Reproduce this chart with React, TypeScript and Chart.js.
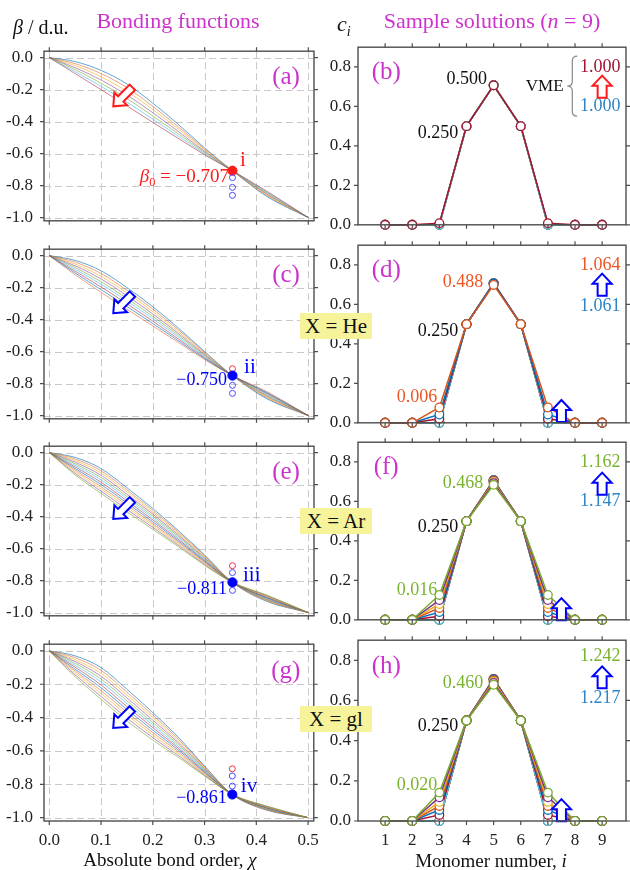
import React, { useEffect, useRef } from "react";
import { Chart, registerables } from "chart.js";

Chart.register(...registerables);

const SERIF = '"Liberation Serif", "Times New Roman", serif';
const MAGENTA = "#CC33CC";
const PALETTE = ["#0072BD", "#D95319", "#EDB120", "#7E2F8E", "#77AC30", "#4DBEEE", "#A2142F"];
const PALETTE_LIGHT = [
  "rgba(0,114,189,0.7)",
  "rgba(217,83,25,0.6)",
  "rgba(237,177,32,0.7)",
  "rgba(126,47,142,0.6)",
  "rgba(119,172,48,0.7)",
  "rgba(77,190,238,0.75)",
  "rgba(162,20,47,0.6)",
];
const RED = "#FF1A1A";
const BLUE = "#0000FF";
const TXT_BLUE = "#2E86C8";
const TXT_ORANGE = "#EE5522";
const TXT_GREEN = "#7AB32E";
const TXT_DARKRED = "#A2142F";

// ---------- Bonding functions (left column) ----------
const CHI = [0, 0.05, 0.1, 0.15, 0.2, 0.25, 0.3, 0.3536, 0.42, 0.5];
const CHI_TICKS = [0, 0.1, 0.2, 0.3, 0.4, 0.5];
const BETA_TICKS = [0, -0.2, -0.4, -0.6, -0.8, -1.0];
const CHI0 = 0.3536;
const BETA0 = [-0.707, -0.75, -0.811, -0.861];

const BOND_A = [
  [0, -0.025, -0.08, -0.165, -0.285, -0.42, -0.565, -0.707, -0.868, -1],
  [0, -0.038, -0.1, -0.188, -0.305, -0.435, -0.572, -0.707, -0.862, -1],
  [0, -0.05, -0.12, -0.211, -0.325, -0.449, -0.579, -0.707, -0.857, -1],
  [0, -0.063, -0.14, -0.234, -0.345, -0.464, -0.587, -0.707, -0.852, -1],
  [0, -0.075, -0.16, -0.256, -0.365, -0.478, -0.594, -0.707, -0.846, -1],
  [0, -0.088, -0.18, -0.279, -0.385, -0.493, -0.601, -0.707, -0.841, -1],
  [0, -0.1, -0.2, -0.302, -0.405, -0.507, -0.608, -0.707, -0.835, -1],
];

const BOND_C = [
  [0, -0.03, -0.095, -0.2, -0.32, -0.455, -0.6, -0.75, -0.895, -1],
  [0, -0.041, -0.112, -0.217, -0.335, -0.466, -0.606, -0.75, -0.889, -1],
  [0, -0.053, -0.129, -0.234, -0.35, -0.478, -0.613, -0.75, -0.884, -1],
  [0, -0.064, -0.146, -0.251, -0.365, -0.489, -0.619, -0.75, -0.878, -1],
  [0, -0.075, -0.163, -0.268, -0.38, -0.5, -0.625, -0.75, -0.873, -1],
  [0, -0.086, -0.179, -0.284, -0.395, -0.511, -0.631, -0.75, -0.867, -1],
  [0, -0.098, -0.196, -0.301, -0.41, -0.523, -0.638, -0.75, -0.861, -1],
  [0, -0.109, -0.213, -0.318, -0.425, -0.534, -0.644, -0.75, -0.856, -1],
  [0, -0.12, -0.23, -0.335, -0.44, -0.545, -0.65, -0.75, -0.85, -1],
];

const BOND_E = [
  [0, -0.03, -0.1, -0.22, -0.35, -0.49, -0.64, -0.811, -0.93, -1],
  [0, -0.04, -0.114, -0.234, -0.362, -0.499, -0.646, -0.811, -0.926, -1],
  [0, -0.05, -0.128, -0.247, -0.374, -0.508, -0.652, -0.811, -0.923, -1],
  [0, -0.06, -0.142, -0.261, -0.385, -0.517, -0.658, -0.811, -0.919, -1],
  [0, -0.07, -0.156, -0.275, -0.397, -0.526, -0.664, -0.811, -0.915, -1],
  [0, -0.08, -0.17, -0.288, -0.409, -0.535, -0.67, -0.811, -0.912, -1],
  [0, -0.09, -0.185, -0.302, -0.421, -0.545, -0.675, -0.811, -0.908, -1],
  [0, -0.1, -0.199, -0.315, -0.433, -0.554, -0.681, -0.811, -0.905, -1],
  [0, -0.11, -0.213, -0.329, -0.445, -0.563, -0.687, -0.811, -0.901, -1],
  [0, -0.12, -0.227, -0.343, -0.456, -0.572, -0.693, -0.811, -0.897, -1],
  [0, -0.13, -0.241, -0.356, -0.468, -0.581, -0.699, -0.811, -0.894, -1],
  [0, -0.14, -0.255, -0.37, -0.48, -0.59, -0.705, -0.811, -0.89, -1],
];

const BOND_G = [
  [0, -0.03, -0.1, -0.23, -0.37, -0.52, -0.69, -0.861, -0.955, -1],
  [0, -0.041, -0.117, -0.247, -0.385, -0.531, -0.695, -0.861, -0.953, -1],
  [0, -0.053, -0.135, -0.265, -0.4, -0.542, -0.701, -0.861, -0.95, -1],
  [0, -0.064, -0.152, -0.282, -0.415, -0.553, -0.706, -0.861, -0.948, -1],
  [0, -0.075, -0.169, -0.299, -0.43, -0.564, -0.712, -0.861, -0.946, -1],
  [0, -0.087, -0.186, -0.316, -0.445, -0.575, -0.717, -0.861, -0.944, -1],
  [0, -0.098, -0.204, -0.334, -0.46, -0.585, -0.723, -0.861, -0.941, -1],
  [0, -0.11, -0.221, -0.351, -0.475, -0.596, -0.728, -0.861, -0.939, -1],
  [0, -0.121, -0.238, -0.368, -0.49, -0.607, -0.734, -0.861, -0.937, -1],
  [0, -0.132, -0.255, -0.385, -0.505, -0.618, -0.739, -0.861, -0.935, -1],
  [0, -0.144, -0.273, -0.403, -0.52, -0.629, -0.745, -0.861, -0.932, -1],
  [0, -0.155, -0.29, -0.42, -0.535, -0.64, -0.75, -0.861, -0.93, -1],
];

// ---------- Sample solutions (right column) ----------
const MONOMER = [1, 2, 3, 4, 5, 6, 7, 8, 9];
const C_TICKS = [0, 0.2, 0.4, 0.6, 0.8];
const SHOULDER = 0.5; // c4 = c6
const EDGE_B = [0, 0, 0, 0, 0, 0, 0.008]; // c3 = c7
const PEAK_B = [0.7071, 0.7071, 0.7071, 0.7071, 0.7071, 0.7071, 0.707]; // c5
const EDGE_D = [0, 0, 0, 0, 0, 0, 0.02, 0.042, 0.0775];
const PEAK_D = [0.7071, 0.7071, 0.7071, 0.7071, 0.7071, 0.7071, 0.7066, 0.7046, 0.6986];
const EDGE_F = [0, 0, 0, 0, 0, 0, 0.018, 0.039, 0.06, 0.08, 0.1, 0.126];
const PEAK_F = [0.7071, 0.7071, 0.7071, 0.7071, 0.7071, 0.7071, 0.7067, 0.705, 0.702, 0.698, 0.6928, 0.6841];
const EDGE_H = [0, 0, 0, 0, 0, 0, 0.03, 0.055, 0.075, 0.095, 0.118, 0.1414];
const PEAK_H = [0.7071, 0.7071, 0.7071, 0.7071, 0.7071, 0.7071, 0.7058, 0.7028, 0.6991, 0.6942, 0.6871, 0.6782];

function solutionSeries(edge: number[], peak: number[]) {
  return edge.map((e, i) => [0, 0, e, SHOULDER, peak[i], SHOULDER, e, 0, 0]);
}

// ---------- layout ----------
const TOPS = [44, 242, 439, 637];
const PANEL_H = 184;

function fnt(size: number, italic = false) {
  return `${italic ? "italic " : ""}${size}px ${SERIF}`;
}

function drawRich(ctx: any, parts: any[], x: number, y: number, align: string, color: string, size: number) {
  ctx.save();
  ctx.fillStyle = color;
  ctx.textBaseline = "middle";
  ctx.textAlign = "left";
  const m = parts.map((p) => {
    const sz = p.sub ? size * 0.65 : size;
    ctx.font = fnt(sz, p.italic);
    return { ...p, sz, w: ctx.measureText(p.s).width };
  });
  const total = m.reduce((a, p) => a + p.w, 0);
  let cx = align === "right" ? x - total : align === "center" ? x - total / 2 : x;
  for (const p of m) {
    ctx.font = fnt(p.sz, p.italic);
    ctx.fillText(p.s, cx, y + (p.sub ? size * 0.3 : 0));
    cx += p.w;
  }
  ctx.restore();
}

function drawArrow(ctx: any, cx: number, cy: number, angle: number, len: number, shaft: number, head: number, headLen: number, color: string) {
  ctx.save();
  ctx.translate(cx, cy);
  ctx.rotate(angle);
  const h = len / 2;
  ctx.beginPath();
  ctx.moveTo(-h, -shaft);
  ctx.lineTo(h - headLen, -shaft);
  ctx.lineTo(h - headLen, -head);
  ctx.lineTo(h, 0);
  ctx.lineTo(h - headLen, head);
  ctx.lineTo(h - headLen, shaft);
  ctx.lineTo(-h, shaft);
  ctx.closePath();
  ctx.fillStyle = "#fff";
  ctx.fill();
  ctx.strokeStyle = color;
  ctx.lineWidth = 2;
  ctx.lineJoin = "miter";
  ctx.stroke();
  ctx.restore();
}

function drawBrace(ctx: any, x: number, y1: number, y2: number) {
  const ym = (y1 + y2) / 2;
  ctx.save();
  ctx.strokeStyle = "#888";
  ctx.lineWidth = 1.2;
  ctx.beginPath();
  ctx.moveTo(x + 5, y1);
  ctx.quadraticCurveTo(x, y1, x, y1 + 5);
  ctx.lineTo(x, ym - 5);
  ctx.quadraticCurveTo(x, ym, x - 5, ym);
  ctx.quadraticCurveTo(x, ym, x, ym + 5);
  ctx.lineTo(x, y2 - 5);
  ctx.quadraticCurveTo(x, y2, x + 5, y2);
  ctx.stroke();
  ctx.restore();
}

function makeDeco(spec: any) {
  const isL = spec.side === "L";
  const xTicks = isL ? CHI_TICKS : MONOMER;
  const yTicks = isL ? BETA_TICKS : C_TICKS;
  return {
    id: "deco_" + spec.id,
    beforeDatasetsDraw(chart: any) {
      if (!isL) return;
      const { ctx, chartArea: a, scales } = chart;
      ctx.save();
      ctx.strokeStyle = "#c8c8c8";
      ctx.lineWidth = 1;
      ctx.setLineDash([7, 4]);
      xTicks.forEach((v) => {
        const px = Math.round(scales.x.getPixelForValue(v)) + 0.5;
        ctx.beginPath();
        ctx.moveTo(px, a.top);
        ctx.lineTo(px, a.bottom);
        ctx.stroke();
      });
      yTicks.forEach((v) => {
        const py = Math.round(scales.y.getPixelForValue(v)) + 0.5;
        ctx.beginPath();
        ctx.moveTo(a.left, py);
        ctx.lineTo(a.right, py);
        ctx.stroke();
      });
      ctx.restore();
    },
    afterDatasetsDraw(chart: any) {
      const { ctx, scales } = chart;
      const X = (v: number) => scales.x.getPixelForValue(v);
      const Y = (v: number) => scales.y.getPixelForValue(v);
      for (const a of spec.ann) {
        if (a.t === "text") {
          drawRich(ctx, [{ s: a.s, italic: a.italic }], X(a.x), Y(a.y), a.align, a.color, a.size);
        } else if (a.t === "rich") {
          drawRich(ctx, a.parts, X(a.x), Y(a.y), a.align, a.color, a.size);
        } else if (a.t === "arrowDL") {
          drawArrow(ctx, X(a.x), Y(a.y), (135 * Math.PI) / 180, 27, 3.8, 9, 10.5, a.color);
        } else if (a.t === "arrowUp") {
          drawArrow(ctx, X(a.x), Y(a.y), -Math.PI / 2, 22, 4.5, 9.5, 10, a.color);
        } else if (a.t === "brace") {
          drawBrace(ctx, X(a.x), Y(a.y1), Y(a.y2));
        }
      }
    },
    afterDraw(chart: any) {
      const { ctx, chartArea: a, scales } = chart;
      ctx.save();
      ctx.strokeStyle = "#4d4d4d";
      ctx.lineWidth = 1.4;
      ctx.setLineDash([]);
      ctx.strokeRect(a.left, a.top, a.right - a.left, a.bottom - a.top);
      ctx.lineWidth = 1.2;
      const tl = 4;
      ctx.beginPath();
      xTicks.forEach((v) => {
        const px = scales.x.getPixelForValue(v);
        ctx.moveTo(px, a.bottom);
        ctx.lineTo(px, a.bottom + tl);
        ctx.moveTo(px, a.top);
        ctx.lineTo(px, a.top - tl);
      });
      yTicks.forEach((v) => {
        const py = scales.y.getPixelForValue(v);
        ctx.moveTo(a.left, py);
        ctx.lineTo(a.left - tl, py);
        ctx.moveTo(a.right, py);
        ctx.lineTo(a.right + tl, py);
      });
      ctx.stroke();
      ctx.restore();
    },
  };
}

function buildConfig(spec: any) {
  const isL = spec.side === "L";
  const datasets: any[] = [];
  if (isL) {
    const n = spec.curves.length;
    spec.curves.forEach((ys: number[], i: number) => {
      datasets.push({
        data: CHI.map((x, j) => ({ x, y: ys[j] })),
        borderColor: PALETTE_LIGHT[i % 7],
        borderWidth: 0.9,
        pointRadius: 0,
        cubicInterpolationMode: "monotone",
        fill: false,
        order: n - i + 1,
      });
    });
    datasets.push({
      data: BETA0.map((b) => ({ x: CHI0, y: b })),
      showLine: false,
      pointRadius: BETA0.map((_, j) => (j === spec.k ? 4.6 : 3)),
      pointBackgroundColor: BETA0.map((_, j) => (j === spec.k ? (j === 0 ? RED : BLUE) : "rgba(255,255,255,0)")),
      pointBorderColor: BETA0.map((_, j) => (j === spec.k ? (j === 0 ? RED : BLUE) : j === 0 ? "#E8304A" : "#4A4AFF")),
      pointBorderWidth: 1,
      order: 0,
    });
  } else {
    const series = solutionSeries(spec.edge, spec.peak);
    const n = series.length;
    series.forEach((vals: number[], i: number) => {
      const c = PALETTE[i % 7];
      datasets.push({
        data: MONOMER.map((m, j) => ({ x: m, y: vals[j] })),
        borderColor: c,
        backgroundColor: "#fff",
        pointBackgroundColor: "#fff",
        pointBorderColor: c,
        pointRadius: 4.3,
        pointBorderWidth: 1.3,
        borderWidth: 1.5,
        tension: 0,
        clip: false,
        order: n - i,
      });
    });
  }

  const tickFont = { family: SERIF, size: 17 };
  const bottomAxisH = spec.isBottom ? 30 : 0;
  return {
    type: "line",
    data: { datasets },
    options: {
      responsive: false,
      animation: false,
      devicePixelRatio: 1,
      events: [],
      layout: {
        autoPadding: false,
        padding: { top: 14, bottom: spec.isBottom ? 12 : 14, left: 0, right: isL ? 14 : 4 },
      },
      plugins: { legend: { display: false }, tooltip: { enabled: false } },
      scales: {
        x: {
          type: "linear",
          min: isL ? -0.0102 : 0,
          max: isL ? 0.511 : 9.88,
          grid: { display: false, drawTicks: false, tickLength: 0 },
          border: { display: false },
          ticks: {
            display: !!spec.isBottom,
            font: tickFont,
            color: "#222",
            padding: 9,
            autoSkip: false,
            maxRotation: 0,
            callback: (v: any) => (isL ? Number(v).toFixed(1) : String(v)),
          },
          afterBuildTicks: (s: any) => {
            s.ticks = (isL ? CHI_TICKS : MONOMER).map((v) => ({ value: v }));
          },
          afterFit: (s: any) => {
            s.height = bottomAxisH;
          },
        },
        y: {
          type: "linear",
          min: isL ? -1.02 : 0,
          max: isL ? 0.04 : 0.9,
          grid: { display: false, drawTicks: false, tickLength: 0 },
          border: { display: false },
          ticks: {
            font: tickFont,
            color: "#222",
            padding: isL ? 11 : 7,
            autoSkip: false,
            callback: (v: any) => (Math.abs(Number(v)).toFixed(1) === "0.0" ? "0.0" : Number(v).toFixed(1)),
          },
          afterBuildTicks: (s: any) => {
            s.ticks = (isL ? BETA_TICKS : C_TICKS).map((v) => ({ value: v }));
          },
          afterFit: (s: any) => {
            s.width = isL ? 44 : 52;
          },
        },
      },
    },
    plugins: [makeDeco(spec)],
  };
}

function leftAnn(letter: string, arrowColor: string, arrowY: number, extra: any[]) {
  return [
    { t: "text", x: 0.457, y: -0.125, s: letter, color: MAGENTA, size: 25, align: "center" },
    { t: "arrowDL", x: 0.142, y: arrowY, color: arrowColor },
    ...extra,
  ];
}

function rightAnn(letter: string, extra: any[]) {
  return [{ t: "text", x: 1.04, y: 0.77, s: letter, color: MAGENTA, size: 25, align: "center" }, ...extra];
}

const PANELS: any[] = [
  {
    id: "a", side: "L", row: 0, curves: BOND_A, k: 0,
    ann: leftAnn("(a)", RED, -0.245, [
      { t: "rich", x: 0.347, y: -0.748, align: "right", color: RED, size: 19, parts: [{ s: "β", italic: true }, { s: "0", sub: true }, { s: " = −0.707" }] },
      { t: "text", x: 0.368, y: -0.645, s: "i", color: RED, size: 21, align: "left" },
    ]),
  },
  {
    id: "c", side: "L", row: 1, curves: BOND_C, k: 1,
    ann: leftAnn("(c)", BLUE, -0.3, [
      { t: "text", x: 0.343, y: -0.78, s: "−0.750", color: BLUE, size: 18, align: "right" },
      { t: "text", x: 0.376, y: -0.7, s: "ii", color: BLUE, size: 21, align: "left" },
    ]),
  },
  {
    id: "e", side: "L", row: 2, curves: BOND_E, k: 2,
    ann: leftAnn("(e)", BLUE, -0.355, [
      { t: "text", x: 0.343, y: -0.856, s: "−0.811", color: BLUE, size: 18, align: "right" },
      { t: "text", x: 0.374, y: -0.77, s: "iii", color: BLUE, size: 21, align: "left" },
    ]),
  },
  {
    id: "g", side: "L", row: 3, curves: BOND_G, k: 3, isBottom: true,
    ann: leftAnn("(g)", BLUE, -0.405, [
      { t: "text", x: 0.343, y: -0.885, s: "−0.861", color: BLUE, size: 18, align: "right" },
      { t: "text", x: 0.37, y: -0.816, s: "iv", color: BLUE, size: 21, align: "left" },
    ]),
  },
  {
    id: "b", side: "R", row: 0, edge: EDGE_B, peak: PEAK_B,
    ann: rightAnn("(b)", [
      { t: "text", x: 4.76, y: 0.735, s: "0.500", color: "#111", size: 18, align: "right" },
      { t: "text", x: 3.7, y: 0.465, s: "0.250", color: "#111", size: 18, align: "right" },
      { t: "text", x: 7.58, y: 0.7, s: "VME", color: "#111", size: 17, align: "right" },
      { t: "brace", x: 7.9, y1: 0.855, y2: 0.55 },
      { t: "text", x: 8.93, y: 0.8, s: "1.000", color: TXT_DARKRED, size: 18, align: "center" },
      { t: "text", x: 8.93, y: 0.6, s: "1.000", color: TXT_BLUE, size: 18, align: "center" },
      { t: "arrowUp", x: 9.0, y: 0.7, color: RED },
    ]),
  },
  {
    id: "d", side: "R", row: 1, edge: EDGE_D, peak: PEAK_D,
    ann: rightAnn("(d)", [
      { t: "text", x: 4.62, y: 0.71, s: "0.488", color: TXT_ORANGE, size: 18, align: "right" },
      { t: "text", x: 3.7, y: 0.465, s: "0.250", color: "#111", size: 18, align: "right" },
      { t: "text", x: 2.92, y: 0.127, s: "0.006", color: TXT_ORANGE, size: 18, align: "right" },
      { t: "text", x: 8.93, y: 0.8, s: "1.064", color: TXT_ORANGE, size: 18, align: "center" },
      { t: "text", x: 8.93, y: 0.59, s: "1.061", color: TXT_BLUE, size: 18, align: "center" },
      { t: "arrowUp", x: 9.0, y: 0.7, color: BLUE },
      { t: "arrowUp", x: 7.5, y: 0.06, color: BLUE },
    ]),
  },
  {
    id: "f", side: "R", row: 2, edge: EDGE_F, peak: PEAK_F,
    ann: rightAnn("(f)", [
      { t: "text", x: 4.62, y: 0.69, s: "0.468", color: TXT_GREEN, size: 18, align: "right" },
      { t: "text", x: 3.7, y: 0.47, s: "0.250", color: "#111", size: 18, align: "right" },
      { t: "text", x: 2.92, y: 0.152, s: "0.016", color: TXT_GREEN, size: 18, align: "right" },
      { t: "text", x: 8.93, y: 0.8, s: "1.162", color: TXT_GREEN, size: 18, align: "center" },
      { t: "text", x: 8.93, y: 0.6, s: "1.147", color: TXT_BLUE, size: 18, align: "center" },
      { t: "arrowUp", x: 9.0, y: 0.69, color: BLUE },
      { t: "arrowUp", x: 7.5, y: 0.054, color: BLUE },
    ]),
  },
  {
    id: "h", side: "R", row: 3, edge: EDGE_H, peak: PEAK_H, isBottom: true,
    ann: rightAnn("(h)", [
      { t: "text", x: 4.62, y: 0.686, s: "0.460", color: TXT_GREEN, size: 18, align: "right" },
      { t: "text", x: 3.7, y: 0.47, s: "0.250", color: "#111", size: 18, align: "right" },
      { t: "text", x: 2.92, y: 0.18, s: "0.020", color: TXT_GREEN, size: 18, align: "right" },
      { t: "text", x: 8.93, y: 0.82, s: "1.242", color: TXT_GREEN, size: 18, align: "center" },
      { t: "text", x: 8.93, y: 0.61, s: "1.217", color: TXT_BLUE, size: 18, align: "center" },
      { t: "arrowUp", x: 9.0, y: 0.715, color: BLUE },
      { t: "arrowUp", x: 7.5, y: 0.054, color: BLUE },
    ]),
  },
];

function canvasBox(spec: any) {
  const top = TOPS[spec.row] - 14;
  const h = 14 + PANEL_H + (spec.isBottom ? 42 : 14);
  if (spec.side === "L") return { x: 0, y: top, w: 328, h };
  return { x: 306, y: top, w: 324, h };
}

function PanelCanvas({ spec }: { spec: any }) {
  const ref = useRef<HTMLCanvasElement>(null);
  const box = canvasBox(spec);
  useEffect(() => {
    const chart = new Chart(ref.current as HTMLCanvasElement, buildConfig(spec) as any);
    return () => chart.destroy();
  }, [spec]);
  return (
    <canvas
      ref={ref}
      width={box.w}
      height={box.h}
      style={{ position: "absolute", left: box.x, top: box.y, width: box.w, height: box.h }}
    />
  );
}

function Label({ x, y, size, color = "#111", align = "center", children }: any) {
  const tx = align === "center" ? "-50%" : align === "right" ? "-100%" : "0";
  return (
    <div
      style={{
        position: "absolute",
        left: x,
        top: y,
        transform: `translate(${tx}, -50%)`,
        fontFamily: SERIF,
        fontSize: size,
        lineHeight: 1,
        color,
        whiteSpace: "nowrap",
      }}
    >
      {children}
    </div>
  );
}

function XBox({ top, children }: any) {
  return (
    <div
      style={{
        position: "absolute",
        left: 300,
        top,
        width: 72,
        height: 26,
        background: "#F7F39B",
        fontFamily: SERIF,
        fontSize: 21,
        lineHeight: "26px",
        textAlign: "center",
        color: "#111",
        whiteSpace: "nowrap",
      }}
    >
      {children}
    </div>
  );
}

export default function App() {
  return (
    <div style={{ position: "absolute", left: 0, top: 0, width: 630, height: 870, background: "#fff", overflow: "hidden" }}>
      {PANELS.map((p) => (
        <PanelCanvas key={p.id} spec={p} />
      ))}
      <Label x={13} y={27} size={20} align="left">
        <i>β</i> / d.u.
      </Label>
      <Label x={178} y={21} size={22} color={MAGENTA}>
        Bonding functions
      </Label>
      <Label x={337} y={24} size={22} align="left">
        <i>c</i>
        <span style={{ fontSize: 14, fontStyle: "italic", position: "relative", top: 5 }}>i</span>
      </Label>
      <Label x={492} y={21} size={22} color={MAGENTA}>
        Sample solutions (<i>n</i> = 9)
      </Label>
      <Label x={170} y={859} size={19}>
        Absolute bond order, <i>χ</i>
      </Label>
      <Label x={491} y={860} size={19}>
        Monomer number, <i>i</i>
      </Label>
      <XBox top={313}>X = He</XBox>
      <XBox top={508}>X = Ar</XBox>
      <XBox top={706}>X = gl</XBox>
    </div>
  );
}
